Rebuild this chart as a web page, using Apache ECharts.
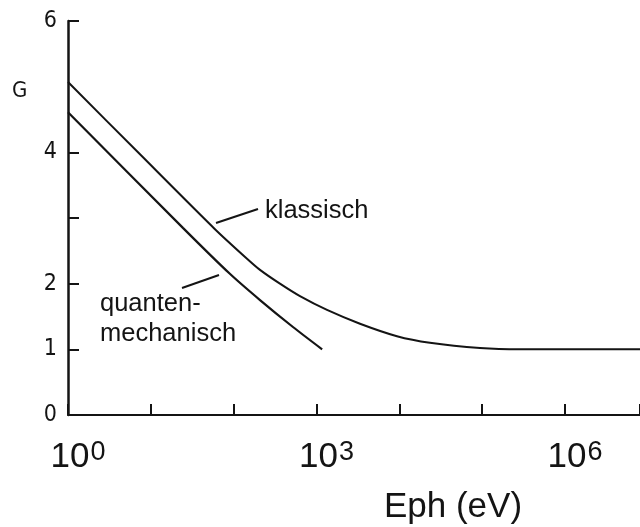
<!DOCTYPE html>
<html>
<head>
<meta charset="utf-8">
<script src="https://cdn.jsdelivr.net/npm/echarts@6/dist/echarts.min.js"></script>
<style>html,body{margin:0;padding:0;background:#fff}#c{width:640px;height:527px}</style>
</head>
<body>
<div id="c"></div>
<script>
// Photon energy (eV) and G values
const xKlassisch = [1, 7.4, 59.5, 145, 208, 362, 632, 1340, 3350, 9370, 23400, 94200, 286000, 870000, 8050000];
const gKlassisch = [5.07, 3.97, 2.83, 2.38, 2.21, 2.0, 1.81, 1.6, 1.39, 1.2, 1.1, 1.02, 1.0, 1.0, 1.0];
const xQuanten = [1, 24.4, 90, 208, 520, 1170];
const gQuanten = [4.61, 2.85, 2.15, 1.75, 1.34, 1.0];
const yTickValues = [0, 1, 2, 3, 4, 6];
const yLabelValues = [0, 1, 2, 4, 6];
const xLabelExponents = [0, 3, 6];

const chart = echarts.init(document.getElementById('c'), null, {renderer: 'canvas'});
const ink = '#141414';
const sansFont = "'Liberation Sans', Arial, sans-serif";
const narrowFont = "'DejaVu Sans Condensed', 'Liberation Sans', sans-serif";

chart.setOption({
  backgroundColor: '#ffffff',
  animation: false,
  grid: {left: 68, top: 21, right: 0, bottom: 112, containLabel: false, outerBoundsMode: 'none'},
  xAxis: {
    type: 'log', logBase: 10, min: 1, max: 8050000,
    name: 'Eph (eV)', nameLocation: 'middle', nameGap: 75,
    nameTextStyle: {fontFamily: sansFont, fontSize: 35, color: ink, padding: [0, 0, 0, 198]},
    axisLine: {show: true, lineStyle: {color: ink, width: 2}},
    axisTick: {show: true, inside: true, length: 11, lineStyle: {color: ink, width: 2}},
    splitLine: {show: false},
    axisLabel: {
      margin: 22,
      color: ink,
      padding: [0, 0, 0, 20],
      formatter: function (v) {
        const e = Math.round(Math.log10(v));
        if (xLabelExponents.indexOf(e) < 0) return '';
        return '{b|10}{s|' + e + '}';
      },
      rich: {
        b: {fontFamily: sansFont, fontSize: 35, color: ink, verticalAlign: 'bottom', lineHeight: 38},
        s: {fontFamily: sansFont, fontSize: 27, color: ink, verticalAlign: 'bottom', lineHeight: 38, padding: [0, 0, 9, 1]}
      }
    }
  },
  yAxis: {
    type: 'value', min: 0, max: 6, interval: 1,
    axisLine: {show: true, lineStyle: {color: ink, width: 2.5}},
    axisTick: {show: true, inside: true, length: 11, customValues: yTickValues, lineStyle: {color: ink, width: 2}},
    splitLine: {show: false},
    axisLabel: {customValues: yLabelValues, margin: 11, fontFamily: narrowFont, fontSize: 23, color: ink, padding: [6, 0, 0, 0]}
  },
  graphic: [
    {type: 'text', left: 12, top: 80, style: {text: 'G', fontFamily: narrowFont, fontSize: 22, fill: ink}},
    {type: 'text', left: 265, top: 198, style: {text: 'klassisch', fontFamily: sansFont, fontSize: 25.5, fill: ink}},
    {type: 'text', left: 100, top: 289, style: {text: 'quanten-\nmechanisch', fontFamily: sansFont, fontSize: 25.5, lineHeight: 30, fill: ink}},
    {type: 'line', shape: {x1: 216, y1: 223, x2: 258, y2: 209}, style: {stroke: ink, lineWidth: 2}},
    {type: 'line', shape: {x1: 182, y1: 288, x2: 219, y2: 275}, style: {stroke: ink, lineWidth: 2}}
  ],
  series: [
    {
      name: 'klassisch', type: 'line', showSymbol: false, smooth: 0.25,
      lineStyle: {color: ink, width: 2},
      data: xKlassisch.map((x, i) => [x, gKlassisch[i]])
    },
    {
      name: 'quantenmechanisch', type: 'line', showSymbol: false, smooth: 0.25,
      lineStyle: {color: ink, width: 2.2},
      data: xQuanten.map((x, i) => [x, gQuanten[i]])
    }
  ]
});
</script>
</body>
</html>
